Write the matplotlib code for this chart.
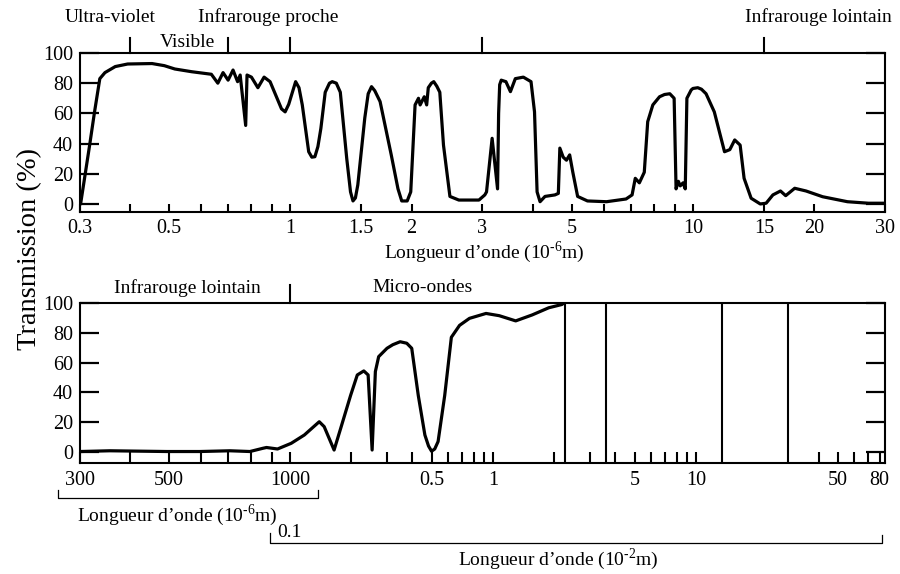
import numpy as np
import matplotlib.pyplot as plt
from matplotlib.ticker import NullFormatter

plt.rcParams['font.family'] = ['Liberation Serif', 'DejaVu Serif']
plt.rcParams['mathtext.fontset'] = 'custom'
plt.rcParams['mathtext.rm'] = 'Liberation Serif'

# panneau du haut : longueur d'onde (1e-6 m), transmission (%)
wl_top = [0.301, 0.317, 0.326, 0.336, 0.346, 0.367, 0.394, 0.453, 0.486, 0.516,
          0.568, 0.636, 0.66, 0.68, 0.70, 0.72, 0.739, 0.75, 0.774, 0.78,
          0.80, 0.83, 0.86, 0.89, 0.95, 0.97, 0.99, 1.03, 1.05, 1.07,
          1.11, 1.13, 1.15, 1.17, 1.19, 1.22, 1.25, 1.27, 1.30, 1.33,
          1.38, 1.41, 1.43, 1.45, 1.47, 1.53, 1.56, 1.59, 1.62, 1.67,
          1.78, 1.85, 1.89, 1.95, 1.99, 2.04, 2.08, 2.10, 2.15, 2.18,
          2.20, 2.24, 2.27, 2.31, 2.35, 2.40, 2.49, 2.62, 2.94, 3.04,
          3.07, 3.17, 3.21, 3.27, 3.29, 3.31, 3.34, 3.43, 3.52, 3.62,
          3.79, 3.96, 4.04, 4.10, 4.17, 4.29, 4.54, 4.63, 4.67, 4.76,
          4.85, 4.94, 5.03, 5.17, 5.47, 6.1, 6.82, 7.06, 7.19, 7.36,
          7.57, 7.72, 7.95, 8.26, 8.5, 8.76, 8.98, 9.08, 9.2, 9.3,
          9.45, 9.57, 9.66, 9.9, 10.0, 10.28, 10.5, 10.78, 11.3, 11.98,
          12.35, 12.7, 13.1, 13.4, 13.95, 14.7, 15.2, 15.8, 16.5, 17.0,
          17.9, 19.1, 21.0, 24.2, 27.3, 30.0]
tr_top = [0, 39, 61, 83, 87, 91, 92.7, 93, 91.6, 89.4,
          87.6, 85.9, 80, 87, 82, 88.7, 81, 85.4, 52, 85.4,
          84, 77, 84, 81, 63, 61, 66, 81, 77, 65.6,
          34.6, 31, 31.3, 38, 50, 74, 80, 81, 80, 74,
          30, 8, 2, 4, 12.6, 57, 73, 77.7, 75, 67.8,
          32.5, 10, 2, 2, 8, 65.6, 70, 65.6, 71, 65.6,
          77, 80, 81, 78, 74, 39, 5, 2.6, 2.6, 6,
          8, 43.5, 30, 10, 60, 79, 82, 81, 74.4, 83,
          84, 81, 61, 8, 1.5, 5, 6, 7, 37, 31,
          29, 32.5, 21, 5, 2, 1.5, 3.3, 6, 17, 14,
          21, 54.5, 65.6, 71, 72.5, 73, 70, 10, 15, 12,
          14, 10, 70, 75.5, 76.5, 77, 76, 73, 61, 34.6,
          36, 42.4, 39, 17, 3.8, 0, 0.5, 6, 8.6, 5.5,
          10.4, 8.6, 4.8, 1.5, 0.5, 0.5]

# panneau du bas : longueur d'onde (1e-2 m), transmission (%)
wl_bot = [0.030, 0.0356, 0.0493, 0.0596, 0.0708, 0.0794, 0.0856, 0.0873, 0.093, 0.1011,
          0.1174, 0.139, 0.147, 0.1645, 0.1774, 0.1984, 0.214, 0.2304, 0.242, 0.2532,
          0.2627, 0.2727, 0.2997, 0.32, 0.3479, 0.375, 0.3968, 0.4273, 0.4606, 0.48,
          0.4969, 0.515, 0.535, 0.5768, 0.6219, 0.6825, 0.7637, 0.9213, 1.0698, 1.290,
          1.555, 1.876, 2.178, 2.22]
tr_bot = [0.3, 0.8, 0.3, 0.3, 0.8, 0.3, 2.5, 3, 2, 5.8,
          11.4, 20.3, 17, 1.3, 16, 38, 51.7, 54.4, 51.7, 1.3,
          54, 64, 69.6, 72, 74, 73, 69.6, 38, 11.4, 4,
          0.5, 2, 7, 38, 77, 85, 89.7, 93, 91.5, 88,
          92, 96.8, 99, 99.8]

sep_bot = [2.25, 3.6, 13.4, 28.4]          # traits verticaux (1e-2 m)
bounds_top = [0.4, 0.7, 1.0, 3.0, 15.0]    # limites des domaines (1e-6 m)
bounds_bot = [0.1]                         # 1e-2 m

top_ticks = [0.3, 0.5, 1, 1.5, 2, 3, 5, 10, 15, 20, 30]
top_labels = ['0.3', '0.5', '1', '1.5', '2', '3', '5', '10', '15', '20', '30']
top_minor = [0.4, 0.6, 0.7, 0.8, 0.9, 4, 6, 7, 8, 9]

bot_ticks = [0.03, 0.05, 0.1, 0.5, 1, 5, 10, 50, 80]
bot_labels = ['300', '500', '1000', '0.5', '1', '5', '10', '50', '80']
bot_minor = [0.04, 0.06, 0.07, 0.08, 0.09, 0.2, 0.3, 0.4, 0.6, 0.7, 0.8, 0.9,
             2, 3, 4, 6, 7, 8, 9, 40, 60, 70]

yticks = [0, 20, 40, 60, 80, 100]

# echelle log avec changement de pente a 0.1 (1000 um)
RATIO = 1.98
def fwd(x):
    x = np.asarray(x, dtype=float)
    u = np.log10(np.clip(x, 1e-9, None) / 0.1)
    return np.where(u < 0, u * RATIO, u)

def inv(u):
    u = np.asarray(u, dtype=float)
    return np.where(u < 0, 0.1 * 10 ** (u / RATIO), 0.1 * 10 ** u)

fig = plt.figure(figsize=(9, 5.74), dpi=100)
ax1 = fig.add_axes([0.0889, 0.6307, 0.8944, 0.277])
ax2 = fig.add_axes([0.0889, 0.1934, 0.8944, 0.2787])

for ax in (ax1, ax2):
    for s in ax.spines.values():
        s.set_linewidth(1.5)
    ax.set_yticks(yticks)
    ax.tick_params(axis='y', direction='in', length=14, width=1.6, right=True,
                   labelsize=14.5, pad=5)
    ax.tick_params(axis='x', which='both', direction='in', width=1.5, labelsize=14.5, pad=5)

# --- haut ---
ax1.plot(wl_top, tr_top, color='k', lw=2.3, solid_joinstyle='round', solid_capstyle='round')
ax1.set_xscale('log')
ax1.set_xlim(0.3, 30)
ax1.set_ylim(-5.3, 100)
ax1.set_xticks(top_ticks, labels=top_labels)
ax1.set_xticks(top_minor, minor=True)
ax1.xaxis.set_minor_formatter(NullFormatter())
ax1.tick_params(axis='x', which='both', length=6)
for b in bounds_top:
    ax1.axvline(b, ymin=1, ymax=1 + 15 / 159, color='k', lw=1.5, clip_on=False)

tr1 = ax1.get_xaxis_transform()
ax1.text(0.356, 1.226, 'Ultra-violet', transform=tr1, ha='center', va='center', fontsize=14)
ax1.text(0.553, 1.069, 'Visible', transform=tr1, ha='center', va='center', fontsize=14)
ax1.text(0.879, 1.226, 'Infrarouge proche', transform=tr1, ha='center', va='center', fontsize=14)
ax1.text(20.5, 1.226, 'Infrarouge lointain', transform=tr1, ha='center', va='center', fontsize=14)
ax1.text(3.04, -0.25, 'Longueur d\u2019onde (10$^{\\text{-6}}$m)', transform=tr1,
         ha='center', va='center', fontsize=14)

# --- bas ---
ax2.plot(wl_bot, tr_bot, color='k', lw=2.3, solid_joinstyle='round', solid_capstyle='round')
ax2.set_xscale('function', functions=(fwd, inv))
ax2.set_xlim(0.03, 85)
ax2.set_ylim(-7.4, 100)
for x in sep_bot:
    ax2.axvline(x, color='k', lw=1.5)
ax2.set_xticks(bot_ticks, labels=bot_labels)
ax2.set_xticks(bot_minor, minor=True)
ax2.xaxis.set_minor_formatter(NullFormatter())
ax2.tick_params(axis='x', which='both', length=8, pad=6)
for b in bounds_bot:
    ax2.axvline(b, ymin=1, ymax=1 + 18 / 160, color='k', lw=1.5, clip_on=False)

tr2 = ax2.get_xaxis_transform()
ax2.text(0.0554, 1.094, 'Infrarouge lointain', transform=tr2, ha='center', va='center', fontsize=14)
ax2.text(0.447, 1.094, 'Micro-ondes', transform=tr2, ha='center', va='center', fontsize=14)

# accolades des deux echelles
ax2.plot([0.0265, 0.0265, 0.1374, 0.1374], [-0.169, -0.219, -0.219, -0.169],
         transform=tr2, color='k', lw=0.9, clip_on=False)
ax2.text(0.0524, -0.325, 'Longueur d\u2019onde (10$^{\\text{-6}}$m)', transform=tr2,
         ha='center', va='center', fontsize=14)
ax2.plot([0.0892, 0.0892, 82.4, 82.4], [-0.4375, -0.5, -0.5, -0.45],
         transform=tr2, color='k', lw=0.9, clip_on=False)
ax2.text(0.0928, -0.4375, '0.1', transform=tr2, ha='left', va='center', fontsize=14)
ax2.text(2.09, -0.6, 'Longueur d\u2019onde (10$^{\\text{-2}}$m)', transform=tr2,
         ha='center', va='center', fontsize=14)

fig.text(0.033, 0.566, 'Transmission (%)', rotation=90, ha='center', va='center', fontsize=20.5)

fig.savefig('out.png', dpi=100)
